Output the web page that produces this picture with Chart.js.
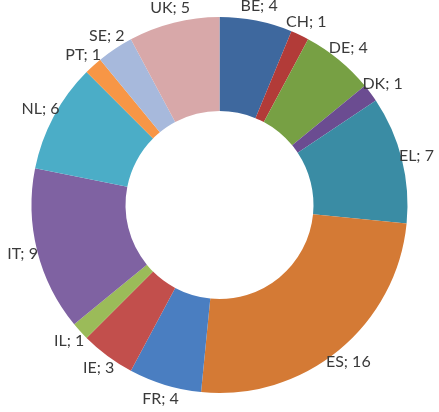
<!DOCTYPE html>
<html>
<head>
<meta charset="utf-8">
<script src="https://cdn.jsdelivr.net/npm/chart.js@4/dist/chart.umd.min.js"></script>
<style>
  html, body { margin: 0; padding: 0; background: #ffffff; }
  #wrap { width: 439px; height: 412px; position: relative; }
</style>
</head>
<body>
<div id="wrap"><canvas id="c" width="439" height="412"></canvas></div>
<script>
const categories = ["BE", "CH", "DE", "DK", "EL", "ES", "FR", "IE", "IL", "IT", "NL", "PT", "SE", "UK"];
const values = [4, 1, 4, 1, 7, 16, 4, 3, 1, 9, 6, 1, 2, 5];
const colors = ["#3E689E", "#B23B38", "#77A044", "#6B4C91", "#3A8CA4", "#D47A35", "#4A7EC1", "#C24F4C", "#9BBB59", "#7F62A2", "#4BADC7", "#F79646", "#A7B9DC", "#D8A8A9"];

const labelPlugin = {
  id: 'sliceLabels',
  afterDatasetsDraw(chart) {
    const ctx = chart.ctx;
    const meta = chart.getDatasetMeta(0);
    ctx.save();
    ctx.font = '16px Lato, "Open Sans", sans-serif';
    ctx.fillStyle = '#3a3a3a';
    ctx.textAlign = 'center';
    ctx.textBaseline = 'middle';
    meta.data.forEach((arc, i) => {
      const p = arc.getProps(['x', 'y', 'startAngle', 'endAngle', 'outerRadius'], true);
      const mid = (p.startAngle + p.endAngle) / 2;
      const r = p.outerRadius + 15;
      const x = p.x + Math.cos(mid) * r;
      const y = p.y + Math.sin(mid) * r;
      ctx.fillText(categories[i] + '; ' + values[i], x, y);
    });
    ctx.restore();
  }
};

new Chart(document.getElementById('c'), {
  type: 'doughnut',
  data: {
    labels: categories,
    datasets: [{
      data: values,
      backgroundColor: colors,
      borderWidth: 0
    }]
  },
  options: {
    responsive: false,
    animation: false,
    cutout: '50%',
    layout: { padding: { top: 17, bottom: 19, left: 0, right: 0 } },
    plugins: {
      legend: { display: false },
      tooltip: { enabled: false }
    }
  },
  plugins: [labelPlugin]
});
</script>
</body>
</html>
